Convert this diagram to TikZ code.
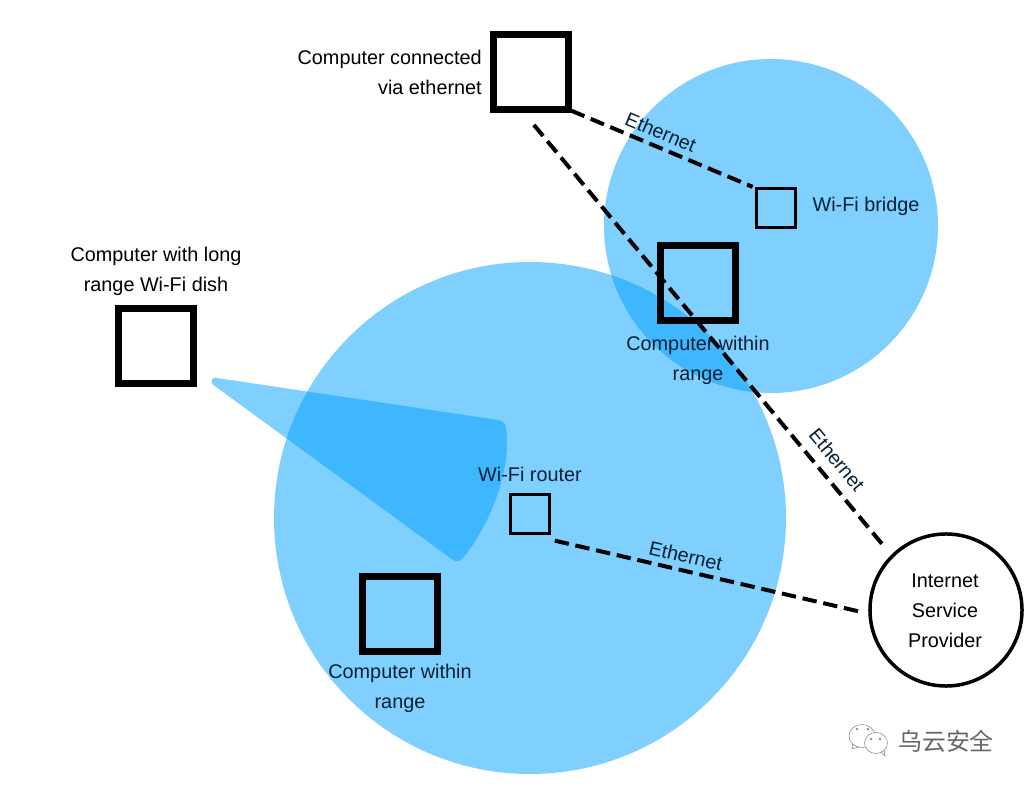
\documentclass[tikz,border=0pt]{standalone}
\usepackage{fontspec}
\setmainfont{Liberation Sans}
\newfontfamily\cjk{Noto Sans CJK SC}
\begin{document}
\begin{tikzpicture}[x=.025cm,y=-.025cm,
  pc/.style={draw=black,line width=7*.025cm,minimum size=1.875cm,inner sep=0pt,outer sep=0pt},
  ap/.style={draw=black,line width=3*.025cm,minimum size=.975cm,inner sep=0pt,outer sep=0pt},
  lbl/.style={align=center,inner sep=0pt,font=\fontsize{14.1}{21.3}\selectfont},
  inlbl/.style={lbl,text=navytext},
  wave/.style={fill=wifi,fill opacity=.5},
  wire/.style={draw=black,line width=4*.025cm,dash pattern=on .36cm off .17cm},
  wirelbl/.style={sloped,inner sep=4pt,font=\fontsize{14}{17}\selectfont,text=navytext}]
\definecolor{wifi}{RGB}{0,160,255}
\definecolor{navytext}{RGB}{8,32,52}
\useasboundingbox (0,0) rectangle (1028,786);
\fill[white] (0,0) rectangle (1028,786);
\fill[wave] (530,518) circle (256);
\fill[wave] (771,226) circle (167);
\fill[wave] (212,384) .. controls (211,379) and (213,377) .. (217,378) -- (498,420) .. controls (503,421) and (505,423) .. (506,428) .. controls (512,470) and (490,525) .. (463,558) .. controls (460,562) and (456,562) .. (453,560) -- cycle;
\node[pc] (wired) at (531,72){};
\node[pc] (dish) at (156,346){};
\node[pc] (upperpc) at (698,283){};
\node[pc] (lowerpc) at (400,614){};
\node[ap] (router) at (530,514){};
\node[ap] (bridge) at (776,208){};
\node[draw=black,line width=3.5*.025cm,circle,minimum size=3.8cm,inner sep=0pt,outer sep=0pt] (isp) at (946,610){};
\coordinate (wiredtap) at (524,113);
\coordinate (routertap) at (552,540);
\coordinate (isptap) at (870,614);
\node[lbl,align=right,anchor=east] (wiredlbl) at (482,72){Computer connected\\via ethernet};
\node[lbl] (dishlbl) at (156,271){Computer with long\\range Wi-Fi dish};
\node[inlbl] (upperlbl) at (698,360){Computer within\\range};
\node[inlbl] (lowerlbl) at (400,688){Computer within\\range};
\node[inlbl] (routerlbl) at (530,474){Wi-Fi router};
\node[inlbl] (bridgelbl) at (866,206){Wi-Fi bridge};
\node[lbl] (isplbl) at (945,611){Internet\\Service\\Provider};
\draw[wire,shorten <=2pt,shorten >=3pt] (wired.south east) -- (bridge.north west) node[wirelbl,pos=.46,above]{Ethernet};
\draw[wire,shorten <=11pt,shorten >=8pt] (wiredtap) -- (isp.north west) node[wirelbl,pos=.81,above,inner sep=7pt]{Ethernet};
\draw[wire,shorten <=2pt,shorten >=7pt] (routertap) -- (isptap) node[wirelbl,pos=.41,above]{Ethernet};
\node[text=black!60,inner sep=0pt,font=\cjk\fontsize{17}{17}\selectfont] (mark) at (946,741){乌云安全};
\draw[black!45,line width=.4pt,fill=white] (862,736) ellipse (13 and 11.5);
\draw[black!45,line width=.4pt,fill=white] (876,743) ellipse (11.5 and 10.5);
\draw[black!45,line width=.4pt] (853,744) -- (852,749) -- (859,747);
\draw[black!45,line width=.4pt] (881,752) -- (885,756) -- (884,750);
\foreach \x/\y in {857/729,868/729,871/739,880/739}{\fill[black!45] (\x,\y) circle (1.3);}
\end{tikzpicture}
\end{document}
